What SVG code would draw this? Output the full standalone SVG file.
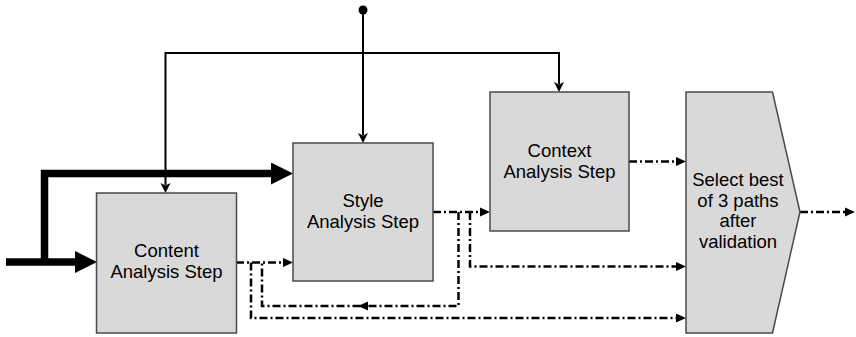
<svg xmlns="http://www.w3.org/2000/svg" width="856" height="337" viewBox="0 0 856 337">
<style>
.box{fill:#d9d9d9;stroke:#4a4a4a;stroke-width:1.5}
.t{font-family:"Liberation Sans",Arial,sans-serif;font-size:18.5px;fill:#000;text-anchor:middle}
.thin{fill:none;stroke:#000;stroke-width:2}
.thick{fill:none;stroke:#000;stroke-width:7.5;stroke-linejoin:miter}
.dd{fill:none;stroke:#000;stroke-width:2.5;stroke-dasharray:8 3 2 3}
</style>
<defs>
<marker id="big" markerUnits="userSpaceOnUse" viewBox="0 0 22 22" markerWidth="22" markerHeight="22" refX="0" refY="11" orient="auto">
<path d="M0,0 L22,11 L0,22 Z" fill="#000"/>
</marker>
<marker id="ah" markerUnits="userSpaceOnUse" viewBox="0 -6 11 12" markerWidth="11" markerHeight="12" refX="2" refY="0" orient="auto-start-reverse">
<path d="M0,-5 L10,0 L0,5 L2.5,0 Z" fill="#000"/>
</marker>
<marker id="ad" markerUnits="userSpaceOnUse" viewBox="0 -5 10 10" markerWidth="10" markerHeight="10" refX="0" refY="0" orient="auto">
<path d="M0,-4.5 L10,0 L0,4.5 Z" fill="#000"/>
</marker>
</defs>
<g id="connectors">
<circle cx="363" cy="10" r="4.5" fill="#000"/>
<path class="thin" d="M363,10 V135" marker-end="url(#ah)"/>
<path class="thin" d="M165.5,185 V53 H559 V84" marker-start="url(#ah)" marker-end="url(#ah)"/>
<path class="thick" d="M6,262 H75" marker-end="url(#big)"/>
<path class="thick" d="M44.5,262 V173.5 H271" marker-end="url(#big)"/>
<path class="dd" d="M236,262.5 H283" marker-end="url(#ad)"/>
<path class="dd" d="M251,262.5 V318 H676" marker-end="url(#ad)"/>
<path class="dd" d="M433,212 H480" marker-end="url(#ad)"/>
<path class="dd" d="M470,212 V266.5 H676" marker-end="url(#ad)"/>
<path class="dd" d="M458.5,212 V306 H262 V262.5"/>
<path d="M358,306 L368,301.5 L368,310.5 Z" fill="#000"/>
<path class="dd" d="M629,161.5 H676" marker-end="url(#ad)"/>
<path class="dd" d="M800,212 H845" marker-end="url(#ad)"/>
</g>
<g id="content">
<rect class="box" x="96.5" y="193" width="140" height="140"/>
<text class="t" x="166.5" y="257">Content</text>
<text class="t" x="166.5" y="278">Analysis Step</text>
</g>
<g id="style">
<rect class="box" x="293" y="143" width="140" height="138"/>
<text class="t" x="363" y="207">Style</text>
<text class="t" x="363" y="228">Analysis Step</text>
</g>
<g id="context">
<rect class="box" x="490" y="92" width="139" height="139"/>
<text class="t" x="559.5" y="156.5">Context</text>
<text class="t" x="559.5" y="177.5">Analysis Step</text>
</g>
<g id="select">
<polygon class="box" points="686,92 772.5,92 800,212 772.5,333 686,333"/>
<text class="t" x="738" y="186">Select best</text>
<text class="t" x="738" y="206.7">of 3 paths</text>
<text class="t" x="738" y="227.3">after</text>
<text class="t" x="738" y="248">validation</text>
</g>
</svg>
